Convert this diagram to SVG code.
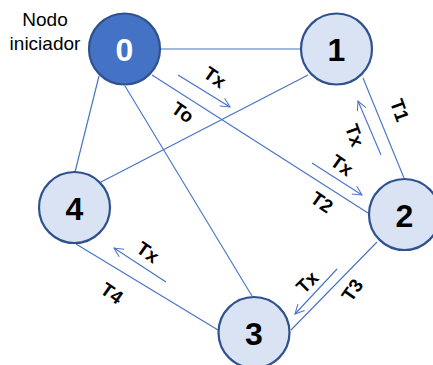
<svg xmlns="http://www.w3.org/2000/svg" width="433" height="365" viewBox="0 0 433 365">
<defs>
<style>
.edge{stroke:#4472C4;stroke-width:1.1;fill:none}
.arr{stroke:#4472C4;stroke-width:1.1;fill:none;marker-end:url(#ah)}
.node{fill:#DAE3F3;stroke:#2F528F;stroke-width:2.2}
.node0{fill:#4472C4;stroke:#2F528F;stroke-width:2.2}
.num{font-family:"Liberation Sans",Arial,sans-serif;font-weight:bold;font-size:32px;text-anchor:middle;fill:#000}
.lbl{font-family:"Liberation Sans",Arial,sans-serif;font-weight:bold;font-size:19px;text-anchor:middle;fill:#000}
.cap{font-family:"Liberation Sans",Arial,sans-serif;font-size:19px;text-anchor:middle;fill:#000}
</style>
<marker id="ah" viewBox="0 0 12 12" refX="11" refY="6" markerWidth="11" markerHeight="11" markerUnits="userSpaceOnUse" orient="auto">
<path d="M1,1 L11,6 L1,11" stroke="#4472C4" stroke-width="1.1" fill="none"/>
</marker>
</defs>
<rect width="433" height="365" fill="#fff"/>
<g id="connectors">
<line class="edge" x1="161" y1="49" x2="300" y2="49"/>
<line class="edge" x1="152" y1="75" x2="368" y2="213"/>
<line class="edge" x1="125" y1="86" x2="252" y2="296"/>
<line class="edge" x1="99" y1="76" x2="75" y2="172"/>
<line class="edge" x1="308" y1="75" x2="101" y2="182"/>
<line class="edge" x1="363" y1="78" x2="404" y2="178"/>
<line class="edge" x1="377" y1="242" x2="291" y2="330"/>
<line class="edge" x1="76" y1="244" x2="218" y2="330"/>
<line class="arr" x1="178" y1="75" x2="230" y2="107"/>
<line class="arr" x1="381" y1="155" x2="358" y2="101"/>
<line class="arr" x1="312" y1="163" x2="362" y2="195"/>
<line class="arr" x1="337" y1="269" x2="295" y2="314"/>
<line class="arr" x1="166" y1="282" x2="114" y2="248"/>
<text class="lbl" transform="translate(215,77) rotate(35)" dy="7">Tx</text>
<text class="lbl" transform="translate(183,112) rotate(35)" dy="7">To</text>
<text class="lbl" transform="translate(400,110) rotate(70)" dy="7">T1</text>
<text class="lbl" transform="translate(355,135) rotate(70)" dy="7">Tx</text>
<text class="lbl" transform="translate(342,165) rotate(35)" dy="7">Tx</text>
<text class="lbl" transform="translate(322,202) rotate(35)" dy="7">T2</text>
<text class="lbl" transform="translate(307,282) rotate(-45)" dy="7">Tx</text>
<text class="lbl" transform="translate(352,290) rotate(-55)" dy="7">T3</text>
<text class="lbl" transform="translate(148,252) rotate(35)" dy="7">Tx</text>
<text class="lbl" transform="translate(112,293) rotate(35)" dy="7">T4</text>
</g>
<g id="node0">
<circle class="node0" cx="124.5" cy="49" r="35.5"/>
<text class="num" x="124.5" y="61" style="fill:#fff">0</text>
<text class="cap" x="45" y="26">Nodo</text>
<text class="cap" x="45" y="50">iniciador</text>
</g>
<g id="node1">
<circle class="node" cx="336.5" cy="49" r="35.5"/>
<text class="num" x="336.5" y="61">1</text>
</g>
<g id="node2">
<circle class="node" cx="404.5" cy="214.5" r="35.5"/>
<text class="num" x="404.5" y="226.5">2</text>
</g>
<g id="node3">
<circle class="node" cx="254" cy="332.5" r="35.5"/>
<text class="num" x="254" y="344.5">3</text>
</g>
<g id="node4">
<circle class="node" cx="74.5" cy="207.5" r="35.5"/>
<text class="num" x="74.5" y="219.5">4</text>
</g>
</svg>
